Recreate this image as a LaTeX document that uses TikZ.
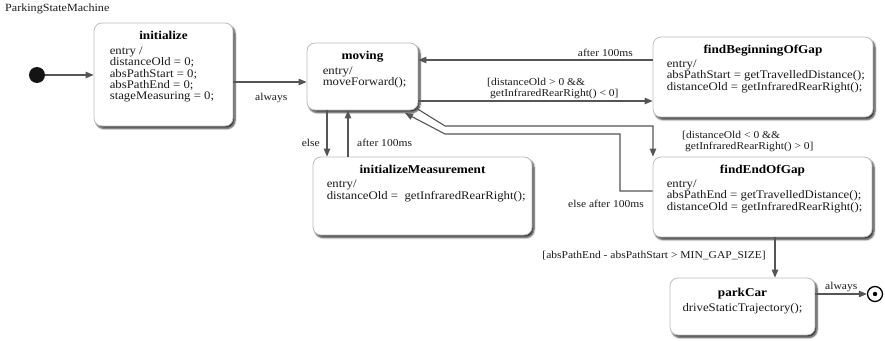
\documentclass[tikz,border=0pt]{standalone}
\usepackage{fontspec}
\setmainfont[FakeStretch=1.1]{Liberation Serif}
\usetikzlibrary{arrows.meta,calc,shadows.blur}
\definecolor{edgegray}{HTML}{555555}
\definecolor{boxline}{HTML}{BDBDBD}
\definecolor{ink}{HTML}{1A1A1A}
\newcommand{\lines}[1]{\begin{tabular}[t]{@{}l@{}}#1\end{tabular}}
\begin{document}
\begin{tikzpicture}[x=1pt,y=-1pt,
  statebox/.style={draw=boxline, line width=0.8pt, fill=white, rounded corners=8pt,
    blur shadow={shadow xshift=2pt, shadow yshift=-2.5pt, shadow blur steps=6, shadow opacity=80},
    inner sep=0},
  title/.style={font=\fontsize{12}{12}\selectfont\bfseries, text=black, anchor=base, inner sep=0},
  body/.style={font=\fontsize{11.6}{11}\selectfont, text=ink, anchor=base west, inner sep=0},
  lbl/.style={font=\fontsize{10.5}{11}\selectfont, text=ink, inner sep=0},
  flow/.style={draw=edgegray, line width=1.1pt, -{Triangle[length=8pt,width=6.5pt]}}
]
\useasboundingbox (0,0) rectangle (885,340);

% diagram title
\node[lbl, font=\fontsize{11}{11}\selectfont, anchor=base west] (diagname) at (5,12) {ParkingStateMachine};

% pseudo states
\node[circle, fill=black!92, minimum size=16, inner sep=0] (start) at (37,75) {};
\node[circle, draw=black, line width=1.3pt, fill=white, minimum size=15, inner sep=0] (final) at (875,294) {};
\fill[black] (final.center) circle (2.2);

% states
\node[statebox, minimum width=139, minimum height=103] (init) at (163.5,74.5) {};
\node[title] (initT) at ($(init.north)+(0,17)$) {initialize};
\node[body] (initB) at ($(init.north west)+(16,32)$) {\lines{entry /\\distanceOld = 0;\\absPathStart = 0;\\absPathEnd = 0;\\stageMeasuring = 0;}};

\node[statebox, minimum width=111, minimum height=67] (moving) at (362.5,76.5) {};
\node[title] (movingT) at ($(moving.north)+(0,17)$) {moving};
\node[body] (movingB) at ($(moving.north west)+(16,32)$) {\lines{entry/\\moveForward();}};

\node[statebox, minimum width=220, minimum height=80] (findBeg) at (763,77) {};
\node[title] (findBegT) at ($(findBeg.north)+(0,17)$) {findBeginningOfGap};
\node[body] (findBegB) at ($(findBeg.north west)+(14,31)$) {\lines{entry/\\absPathStart = getTravelledDistance();\\distanceOld = getInfraredRearRight();}};

\node[statebox, minimum width=219, minimum height=78] (initMeas) at (422.5,196) {};
\node[title] (initMeasT) at ($(initMeas.north)+(0,17)$) {initializeMeasurement};
\node[body] (initMeasB) at ($(initMeas.north west)+(14,31)$) {\lines{entry/\\distanceOld =\ \ getInfraredRearRight();}};

\node[statebox, minimum width=219, minimum height=80] (findEnd) at (762.5,197) {};
\node[title] (findEndT) at ($(findEnd.north)+(0,17)$) {findEndOfGap};
\node[body] (findEndB) at ($(findEnd.north west)+(14,31)$) {\lines{entry/\\absPathEnd = getTravelledDistance();\\distanceOld = getInfraredRearRight();}};

\node[statebox, minimum width=145, minimum height=57] (park) at (742.5,306.5) {};
\node[title] (parkT) at ($(park.north)+(0,19)$) {parkCar};
\node[body, anchor=base] (parkB) at ($(park.north)+(0,33.5)$) {driveStaticTrajectory();};

% transitions
\draw[flow] (start) -- (start -| init.west);

\draw[flow] ([yshift=-7.5pt]init.east) -- ([yshift=-5.5pt]moving.west);
\node[lbl, anchor=base west] (lAlways1) at (255,100.5) {always};

\draw[flow] ([yshift=17pt]findBeg.west) -- ([yshift=16.5pt]moving.east);
\node[lbl, anchor=base east] (lAfter1) at (633,56.5) {after 100ms};

\draw[flow] ([yshift=-24.5pt]moving.east) -- ([yshift=-24pt]findBeg.west);
\node[lbl, anchor=base west] (lGuard1) at (487,85.5) {\lines{[distanceOld > 0 \&\&\\\hspace{3pt}getInfraredRearRight() < 0]}};

\coordinate (elseTop) at ([xshift=-35.5pt]moving.south);
\draw[flow] (elseTop) -- (elseTop |- initMeas.north);
\node[lbl, anchor=base east] (lElse) at (320,146.5) {else};

\coordinate (backBot) at ([xshift=-74.5pt]initMeas.north);
\draw[flow] (backBot) -- (backBot |- moving.south);
\node[lbl, anchor=base west] (lAfter2) at (357,146.5) {after 100ms};

\coordinate (mvCorner) at (416,108);
\coordinate (b1) at (445,126);
\coordinate (b2) at (653,126);
\draw[flow] (mvCorner) -- (b1) -- (b2) -- (b2 |- findEnd.north);
\node[lbl, anchor=base west] (lGuard2) at (682,138.5) {\lines{[distanceOld < 0 \&\&\\\hspace{3pt}getInfraredRearRight() > 0]}};

\coordinate (r1) at (620,191);
\coordinate (r2) at (620,134);
\coordinate (r3) at (445,134);
\coordinate (mvTip) at (405,113);
\draw[flow] (findEnd.west |- r1) -- (r1) -- (r2) -- (r3) -- (mvTip);
\node[lbl, anchor=base west] (lElseAfter) at (568,207.5) {else after 100ms};

\coordinate (downTop) at ([xshift=12.5pt]findEnd.south);
\draw[flow] (downTop) -- (downTop |- park.north);
\node[lbl, anchor=base east] (lGuard3) at (766,258.5) {[absPathEnd - absPathStart > MIN\_GAP\_SIZE]};

\draw[flow] (park.east |- final) -- (final);
\node[lbl, anchor=base west] (lAlways2) at (825,289.5) {always};
\end{tikzpicture}
\end{document}
